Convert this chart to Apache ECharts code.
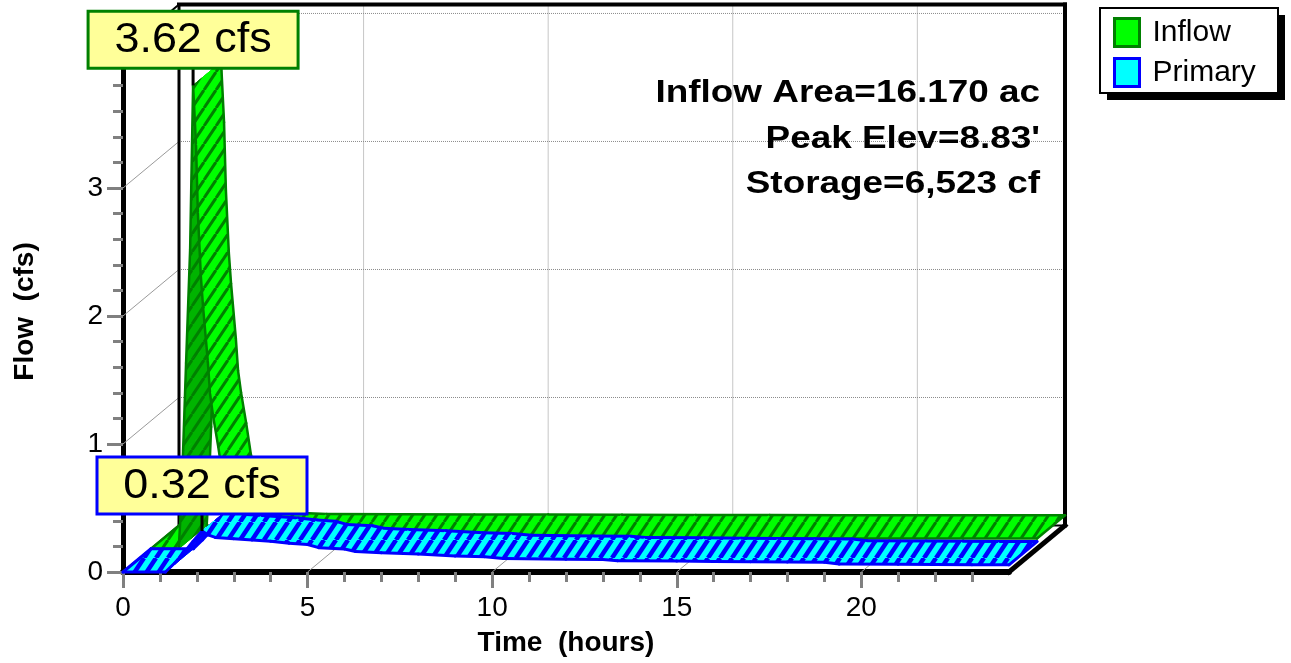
<!DOCTYPE html>
<html>
<head>
<meta charset="utf-8">
<script src="https://cdn.jsdelivr.net/npm/echarts@6/dist/echarts.min.js"></script>
<style>
  html, body { margin: 0; padding: 0; background: #fff; }
  #chart { width: 1291px; height: 663px; }
</style>
</head>
<body>
<div id="chart"></div>
<script>
// Pond routing hydrograph: inflow and primary outflow (cfs) over 24 hours,
// drawn as two pseudo-3D ribbons inside a box (front plane = the ECharts grid).

const inflowHours = [0, 0.75, 0.80, 0.87, 0.95, 1.06, 1.14, 1.22, 1.27, 1.35, 1.41, 1.54, 1.60, 1.68,
  1.82, 1.95, 2.10, 2.30, 2.60, 3.00, 3.50, 4.00, 6, 8, 10, 12, 14, 16, 18, 20, 22, 24];
const inflowCfs = [0, 0, 0.25, 0.77, 1.45, 2.34, 3.62, 3.15, 2.62, 2.13, 1.89, 1.46, 1.21, 1.04,
  0.80, 0.55, 0.38, 0.24, 0.15, 0.11, 0.095, 0.09, 0.088, 0.086, 0.085, 0.084, 0.083, 0.082, 0.081, 0.08, 0.08, 0.08];

const primaryHours = [0, 1.15, 1.40, 1.65, 1.90, 2.14, 2.30, 2.50, 3.0, 3.5, 4.0, 4.5, 5.0, 5.3, 6.0, 6.3, 7.0,
  8, 9, 9.8, 10.3, 12, 13, 13.4, 15, 16, 17, 18, 19, 19.4, 21, 22, 23, 24];
const primaryCfs = [0, 0, 0.07, 0.15, 0.24, 0.32, 0.29, 0.27, 0.26, 0.25, 0.24, 0.225, 0.215, 0.19, 0.18, 0.16, 0.15,
  0.14, 0.125, 0.12, 0.105, 0.10, 0.098, 0.088, 0.085, 0.082, 0.08, 0.078, 0.076, 0.062, 0.06, 0.058, 0.057, 0.056];

const xMajorTicks = [0, 5, 10, 15, 20];
const xMinorTicks = [0, 1, 2, 3, 4, 5, 6, 7, 8, 9, 10, 11, 12, 13, 14, 15, 16, 17, 18, 19, 20, 21, 22, 23];
const yMajorTicks = [0, 1, 2, 3, 4];
const yMinorTicks = [0, 0.2, 0.4, 0.6, 0.8, 1, 1.2, 1.4, 1.6, 1.8, 2, 2.2, 2.4, 2.6, 2.8, 3, 3.2, 3.4, 3.6, 3.8, 4];
const seriesNames = ['Inflow', 'Primary'];
const statLines = ['Inflow Area=16.170 ac', "Peak Elev=8.83'", 'Storage=6,523 cf'];

const X_MAX = 24;
const Y_MAX = 4.07;

// screen offset of the back plane relative to the front plane (depth = 1)
const DEPTH_DX = 56;
const DEPTH_DY = -46.5;
const FONT = '"Liberation Sans", Arial, sans-serif';

const GREEN = { fill: '#00ff00', rise: '#00b400', edge: '#008000' };
const BLUE = { fill: '#00ffff', rise: '#0000ff', edge: '#0000ff' };

function shift(p, d) { return [p[0] + DEPTH_DX * d, p[1] + DEPTH_DY * d]; }

// diagonal hatch tile used as a repeating fill
function hatch(base, ink, lw) {
  const w = 12, h = 18;
  const c = document.createElement('canvas');
  c.width = w; c.height = h;
  const g = c.getContext('2d');
  g.fillStyle = base; g.fillRect(0, 0, w, h);
  g.strokeStyle = ink; g.lineWidth = lw;
  for (let k = -1; k <= 1; k++) {
    g.beginPath(); g.moveTo(k * w, h); g.lineTo(k * w + w, 0); g.stroke();
  }
  return { image: c, repeat: 'repeat' };
}

function seg(p, q, style) {
  return { type: 'line', shape: { x1: p[0], y1: p[1], x2: q[0], y2: q[1] }, style: style };
}

// one ribbon: each segment of the hydrograph is a strip between depth d0 and d1
function ribbon(name, hours, cfs, d0, d1, pal, edgeWidth, lineWidth) {
  const flat = hatch(pal.fill, pal.edge, lineWidth);
  const steep = hatch(pal.rise, pal.edge, lineWidth);
  const last = hours.length - 1;
  return {
    type: 'custom',
    name: name,
    coordinateSystem: 'cartesian2d',
    xAxisIndex: 0, yAxisIndex: 0,
    clip: false,
    z: 3,
    itemStyle: { color: pal.fill, borderColor: pal.edge },
    data: hours.map((t, i) => [t, cfs[i]]),
    renderItem: function (params, api) {
      const i = params.dataIndex;
      if (i >= last) return null;
      const a = api.coord([hours[i], cfs[i]]);
      const b = api.coord([hours[i + 1], cfs[i + 1]]);
      const fa = shift(a, d0), fb = shift(b, d0), ba = shift(a, d1), bb = shift(b, d1);
      const fill = cfs[i + 1] > cfs[i] ? steep : flat;
      const edge = { stroke: pal.edge, lineWidth: edgeWidth, lineCap: 'round' };
      const kids = [
        { type: 'polygon', shape: { points: [fa, fb, bb, ba] }, style: { fill: fill, stroke: fill, lineWidth: 1 } },
        seg(fa, fb, edge),
        seg(ba, bb, edge)
      ];
      if (i === 0) kids.push(seg(fa, ba, edge));
      if (i === last - 1) kids.push(seg(fb, bb, edge));
      return { type: 'group', children: kids };
    }
  };
}

function peakOf(hours, cfs) {
  let k = 0;
  cfs.forEach((v, i) => { if (v > cfs[k]) k = i; });
  return [hours[k], cfs[k]];
}

const peaks = [
  { at: peakOf(inflowHours, inflowCfs), depth: 0.5, edge: GREEN.edge },
  { at: peakOf(primaryHours, primaryCfs), depth: 0, edge: BLUE.edge }
];

const chart = echarts.init(document.getElementById('chart'), null, { renderer: 'canvas' });

const tickGray = '#808080';
const legendBox = { x: 1100, y: 8, width: 178, height: 85 };

chart.setOption({
  animation: false,
  backgroundColor: '#ffffff',
  grid: { left: 123, top: 51, width: 886, height: 521, outerBoundsMode: 'none' },
  xAxis: [
    {
      type: 'value', min: 0, max: X_MAX, position: 'bottom',
      axisLine: { show: true, onZero: false, lineStyle: { color: '#000', width: 6 } },
      axisTick: { show: true, customValues: xMinorTicks, length: 10, lineStyle: { color: tickGray, width: 3 } },
      axisLabel: { show: false },
      splitLine: { show: false }
    },
    {
      type: 'value', min: 0, max: X_MAX, position: 'bottom',
      axisLine: { show: false, onZero: false },
      axisTick: { show: true, customValues: xMajorTicks, length: 16, lineStyle: { color: tickGray, width: 3 } },
      axisLabel: { show: true, customValues: xMajorTicks, fontSize: 28, fontFamily: FONT, color: '#000', margin: 22 },
      splitLine: { show: false },
      name: 'Time  (hours)', nameLocation: 'middle', nameGap: 57,
      nameTextStyle: { fontSize: 28, fontWeight: 'bold', fontFamily: FONT, color: '#000' }
    }
  ],
  yAxis: [
    {
      type: 'value', min: 0, max: Y_MAX, position: 'left',
      axisLine: { show: true, onZero: false, lineStyle: { color: '#000', width: 5 } },
      axisTick: { show: true, customValues: yMinorTicks, length: 10, lineStyle: { color: tickGray, width: 3 } },
      axisLabel: { show: false },
      splitLine: { show: false }
    },
    {
      type: 'value', min: 0, max: Y_MAX, position: 'left',
      axisLine: { show: false, onZero: false },
      axisTick: { show: true, customValues: yMajorTicks, length: 16, lineStyle: { color: tickGray, width: 3 } },
      axisLabel: { show: true, customValues: yMajorTicks, fontSize: 28, fontFamily: FONT, color: '#000', margin: 20 },
      splitLine: { show: false },
      name: 'Flow  (cfs)', nameLocation: 'middle', nameGap: 84,
      nameTextStyle: { fontSize: 28, fontWeight: 'bold', fontFamily: FONT, color: '#000' }
    }
  ],
  legend: {
    orient: 'vertical', left: 1100, top: 8,
    padding: [9, 22, 9, 13], itemGap: 9, itemWidth: 25, itemHeight: 28,
    selectedMode: false,
    textStyle: { fontFamily: FONT, fontSize: 30, color: '#000', padding: [4, 0, 0, 8] },
    data: [
      { name: seriesNames[0], icon: 'rect', itemStyle: { color: GREEN.fill, borderColor: GREEN.edge, borderWidth: 3 } },
      { name: seriesNames[1], icon: 'rect', itemStyle: { color: BLUE.fill, borderColor: BLUE.edge, borderWidth: 3 } }
    ]
  },
  graphic: [
    // legend frame with its drop shadow
    { type: 'rect', z: 1, silent: true,
      shape: { x: legendBox.x + 7, y: legendBox.y + 7, width: legendBox.width, height: legendBox.height },
      style: { fill: '#000' } },
    { type: 'rect', z: 1, silent: true,
      shape: legendBox, style: { fill: '#fff', stroke: '#000', lineWidth: 2 } }
  ].concat(statLines.map((s, k) => ({
    type: 'text', x: 1040, y: 93.5 + k * 45.5, scaleX: 1.19, z: 20,
    style: { text: s, align: 'right', verticalAlign: 'middle', fill: '#000',
             fontSize: 31, fontWeight: 'bold', fontFamily: FONT }
  }))),
  series: [
    {
      // box: back wall grid, side/floor grid diagonals and outline
      type: 'custom', name: 'frame', coordinateSystem: 'cartesian2d', xAxisIndex: 0, yAxisIndex: 0,
      clip: false, z: 1, silent: true,
      data: [[0, 0]],
      renderItem: function (params, api) {
        const P = (t, v, d) => shift(api.coord([t, v]), d);
        const dotted = { stroke: '#8c8c8c', lineWidth: 1, lineDash: [1, 1] };
        const diag = { stroke: '#9a9a9a', lineWidth: 1 };
        const kids = [];
        yMajorTicks.filter(v => v > 0).forEach(v => {
          kids.push(seg(P(0, v, 1), P(X_MAX, v, 1), dotted));
          kids.push(seg(P(0, v, 0), P(0, v, 1), diag));
        });
        xMajorTicks.filter(t => t > 0).forEach(t => {
          kids.push(seg(P(t, 0, 1), P(t, Y_MAX, 1), dotted));
          kids.push(seg(P(t, 0, 0), P(t, 0, 1), diag));
        });
        const k2 = { stroke: '#000', lineWidth: 2 };
        const k4 = { stroke: '#000', lineWidth: 4, lineCap: 'square' };
        kids.push(seg(P(0, 0, 1), P(X_MAX, 0, 1), k2));
        kids.push(seg(P(0, 0, 0), P(0, 0, 1), k2));
        kids.push(seg(P(0, Y_MAX, 0), P(0, Y_MAX, 1), k2));
        kids.push(seg(P(0, 0, 1), P(0, Y_MAX, 1), { stroke: '#000', lineWidth: 3 }));
        kids.push(seg(P(0, Y_MAX, 1), P(X_MAX, Y_MAX, 1), k4));
        kids.push(seg(P(X_MAX, Y_MAX, 1), P(X_MAX, 0, 1), k4));
        kids.push(seg(P(X_MAX, 0, 0), P(X_MAX, 0, 1), { stroke: '#000', lineWidth: 5, lineCap: 'square' }));
        return { type: 'group', children: kids };
      }
    },
    ribbon(seriesNames[0], inflowHours, inflowCfs, 0.5, 1.0, GREEN, 2.5, 3),
    ribbon(seriesNames[1], primaryHours, primaryCfs, 0.0, 0.5, BLUE, 3, 4.5),
    {
      // peak callouts
      type: 'custom', name: 'peaks', coordinateSystem: 'cartesian2d', xAxisIndex: 0, yAxisIndex: 0,
      clip: false, z: 10, silent: true,
      data: peaks.map(p => [p.at[0], p.at[1]]),
      renderItem: function (params, api) {
        const p = peaks[params.dataIndex];
        const pt = shift(api.coord(p.at), p.depth);
        const w = 210, h = 57, gap = 17;
        const bottom = pt[1] - gap;
        return {
          type: 'group',
          children: [
            seg([pt[0], bottom], pt, { stroke: '#000', lineWidth: 3 }),
            { type: 'rect', shape: { x: pt[0] - w / 2, y: bottom - h, width: w, height: h },
              style: { fill: '#ffff99', stroke: p.edge, lineWidth: 3 } },
            { type: 'text', x: pt[0], y: bottom - h / 2 + 1, scaleX: 1.07,
              style: { text: p.at[1].toFixed(2) + ' cfs', align: 'center', verticalAlign: 'middle',
                       fill: '#000', fontSize: 42, fontFamily: FONT } }
          ]
        };
      }
    }
  ]
});
</script>
</body>
</html>
